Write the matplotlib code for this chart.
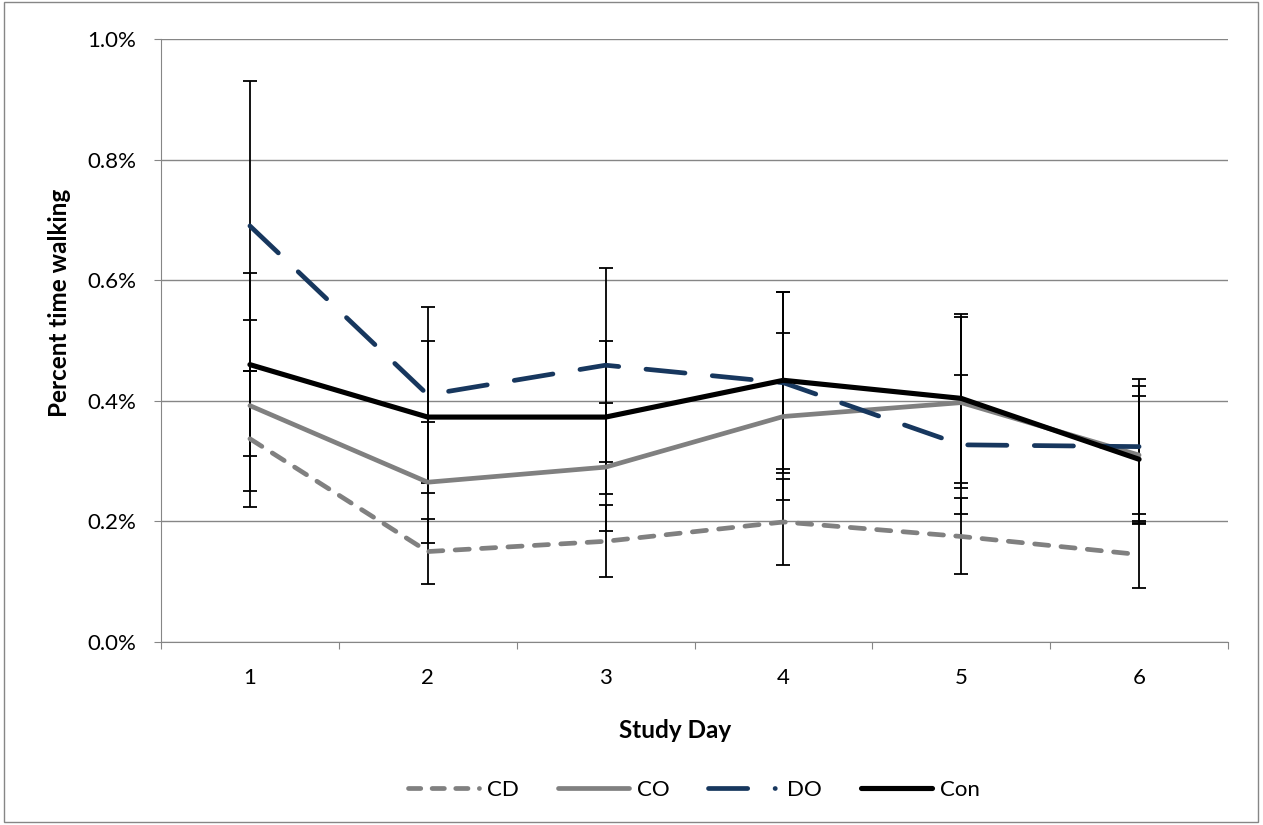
import numpy as np
import matplotlib.pyplot as plt
from matplotlib.lines import Line2D
from matplotlib.patches import Rectangle
from matplotlib.ticker import FuncFormatter

plt.rcParams['font.family'] = ['Lato', 'DejaVu Sans']

days = [1, 2, 3, 4, 5, 6]
labels = ['CD', 'CO', 'DO', 'Con']

# mean percent time walking and error (+/-) per study day
cd_mean = [0.337, 0.150, 0.167, 0.199, 0.175, 0.145]
cd_err = [0.113, 0.054, 0.060, 0.071, 0.063, 0.055]
co_mean = [0.392, 0.265, 0.290, 0.374, 0.397, 0.310]
co_err = [0.142, 0.100, 0.106, 0.139, 0.142, 0.114]
do_mean = [0.690, 0.410, 0.459, 0.430, 0.327, 0.324]
do_err = [0.240, 0.146, 0.161, 0.150, 0.115, 0.112]
con_mean = [0.460, 0.373, 0.373, 0.434, 0.404, 0.303]
con_err = [0.152, 0.126, 0.127, 0.147, 0.140, 0.105]

means = [cd_mean, co_mean, do_mean, con_mean]
errs = [cd_err, co_err, do_err, con_err]
colors = ['#808080', '#808080', '#17375E', '#000000']
styles = [(0, (3.0, 2.6)), '-', (0, (8.3, 5.8)), '-']
legend_styles = [(0, (2.6, 2.4)), '-', (0, (8.3, 5.8, 0.05, 5.8)), '-']
widths = [3.4, 3.4, 3.4, 3.7]

fig = plt.figure(figsize=(12.63, 8.25), dpi=100)
ax = fig.add_axes([161/1263, 1-642/825, 1067/1263, 603/825])

for m, e in zip(means, errs):
    ax.errorbar(days, m, yerr=e, fmt='none', ecolor='black', elinewidth=1.3,
                capsize=5, capthick=1.3, zorder=2)

handles = []
for m, lab, c, ls, lls, lw in zip(means, labels, colors, styles, legend_styles, widths):
    ax.plot(days, m, color=c, linestyle=ls, linewidth=lw,
            dash_capstyle='round', solid_capstyle='round', zorder=3)
    handles.append(Line2D([], [], color=c, linestyle=lls, linewidth=lw,
                          dash_capstyle='round', solid_capstyle='round', label=lab))

ax.set_ylim(0, 1.0)
ax.set_xlim(0.5, 6.5)
ax.set_yticks(np.arange(0, 1.01, 0.2))
ax.yaxis.set_major_formatter(FuncFormatter(lambda v, p: f'{v:.1f}%'))
ax.grid(axis='y', color='#868686', linewidth=1)
ax.set_axisbelow(True)

ax.set_xticks(np.arange(0.5, 7, 1))
ax.set_xticklabels([])
ax.set_xticks(days, minor=True)
ax.set_xticklabels([str(d) for d in days], minor=True)
ax.tick_params(axis='x', which='major', direction='out', length=5, color='#868686')
ax.tick_params(axis='x', which='minor', length=0, pad=19, labelsize=16)
ax.tick_params(axis='y', direction='out', length=5, color='#868686', pad=13, labelsize=16)

for s in ['top', 'right']:
    ax.spines[s].set_visible(False)
for s in ['left', 'bottom']:
    ax.spines[s].set_color('#868686')

ax.set_ylabel('Percent time walking', fontsize=17.5, fontweight='bold')
ax.yaxis.set_label_coords(-0.084, 0.562)
ax.set_xlabel('Study Day', fontsize=17.5, fontweight='bold')
ax.xaxis.set_label_coords(0.482, -0.128)

fig.legend(handles=handles, loc='center', bbox_to_anchor=(694/1263, 1-790/825),
           ncol=4, frameon=False, fontsize=16, handlelength=3.2,
           handletextpad=0.35, columnspacing=1.75)

fig.patches.append(Rectangle((0.003, 0.004), 0.993, 0.993, transform=fig.transFigure,
                             fill=False, edgecolor='#868686', linewidth=1))

fig.savefig('out.png', dpi=100)
